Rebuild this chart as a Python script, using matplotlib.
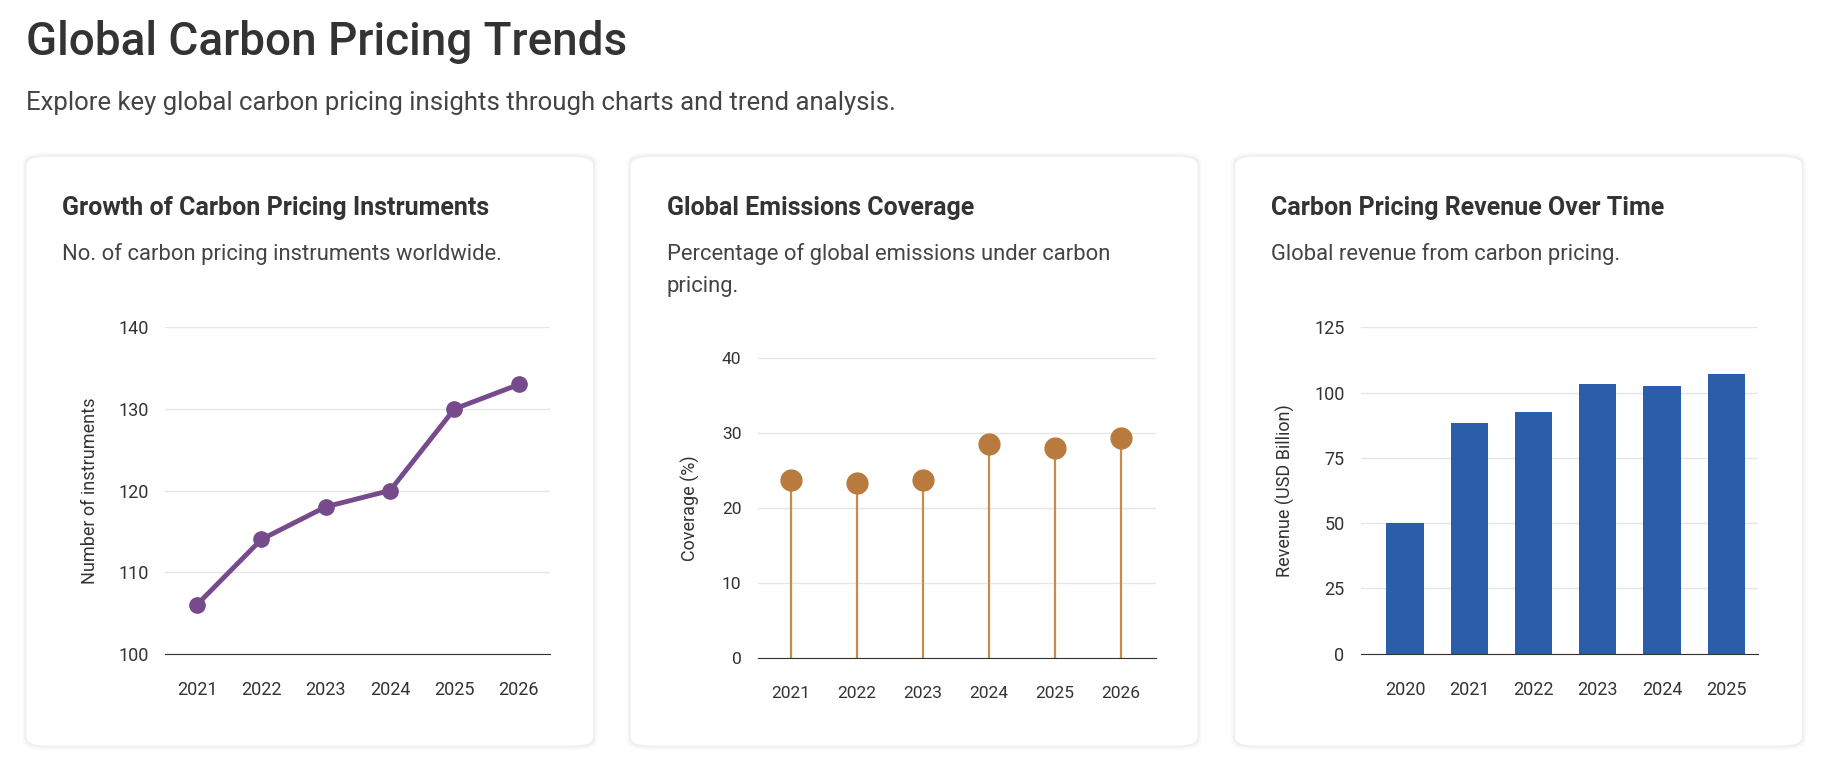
import numpy as np
import matplotlib.pyplot as plt
from matplotlib.patches import FancyBboxPatch

#tre grafici affiancati sul prezzo del carbonio

anni1=['2021','2022','2023','2024','2025','2026'] #anni strumenti
strumenti=[106,114,118,120,130,133] #numero di strumenti
anni2=['2021','2022','2023','2024','2025','2026'] #anni copertura
copertura=[23.8,23.4,23.8,28.5,28.0,29.4] #percentuale emissioni coperte
anni3=['2020','2021','2022','2023','2024','2025'] #anni ricavi
ricavi=[50,88.5,92.5,103.5,102.5,107] #miliardi di dollari

W,H=1568,663 #dimensioni di riferimento in pixel
def fx(p): return p/W #pixel -> frazione x
def fy(p): return 1-p/H #pixel -> frazione y

plt.rcParams['font.family']=['Roboto','DejaVu Sans']
fig=plt.figure(figsize=(18.4,7.78),dpi=100)
fig.patch.set_facecolor('white')

fig.text(fx(22),fy(36),'Global Carbon Pricing Trends',fontsize=33,color='#333333',fontweight='medium',va='center')
fig.text(fx(22),fy(88),'Explore key global carbon pricing insights through charts and trend analysis.',fontsize=18.5,color='#444444',va='center')

titoli=['Growth of Carbon Pricing Instruments','Global Emissions Coverage','Carbon Pricing Revenue Over Time']
sottotitoli=['No. of carbon pricing instruments worldwide.','Percentage of global emissions under carbon\npricing.','Global revenue from carbon pricing.']
for i,x0 in enumerate([22,537,1052]):
    # schede con bordi arrotondati
    for k,a in [(6,0.02),(3,0.03)]: #ombra leggera
        fig.patches.append(FancyBboxPatch((fx(x0-k/2),fy(636+k/2)),fx(484+k),(503+k)/H,boxstyle='round,pad=0,rounding_size=0.012',transform=fig.transFigure,fc=(0,0,0,a),ec='none',zorder=0))
    fig.patches.append(FancyBboxPatch((fx(x0),fy(636)),fx(484),503/H,boxstyle='round,pad=0,rounding_size=0.012',transform=fig.transFigure,fc='white',ec='#eeeeee',lw=0.8,zorder=1))
    fig.text(fx(x0+31),fy(177),titoli[i],fontsize=18,fontweight='bold',color='#333333',va='center',zorder=2)
    fig.text(fx(x0+31),fy(207),sottotitoli[i],fontsize=15.8,color='#444444',va='top',linespacing=1.7,zorder=2)

def stile(ax): #griglia e assi comuni
    ax.set_zorder(3)
    ax.set_facecolor('none')
    for s in ['top','right','left']:
        ax.spines[s].set_visible(False)
    ax.spines['bottom'].set_color('#333333')
    ax.grid(axis='y',color='#e6e6e6',lw=1)
    ax.set_axisbelow(True)
    ax.tick_params(length=0,labelsize=13,labelcolor='#333333',pad=12)
    ax.tick_params(axis='x',pad=20)

#grafico a linea
ax1=fig.add_axes([fx(141),fy(557),fx(328),(557-279)/H])
ax1.plot(range(len(anni1)),strumenti,color='#774a8c',lw=3.5,marker='o',ms=11)
ax1.set_ylim(100,140)
ax1.set_yticks([100,110,120,130,140])
ax1.set_xlim(-0.49,5.49)
ax1.set_xticks(range(len(anni1)),anni1)
ax1.set_ylabel('Number of instruments',fontsize=13,color='#333333',labelpad=14)
stile(ax1)

#grafico lollipop
ax2=fig.add_axes([fx(646),fy(561),fx(339),(561-305)/H])
ax2.vlines(range(len(anni2)),0,copertura,color='#c98a4a',lw=1.6)
ax2.plot(range(len(anni2)),copertura,'o',color='#b87a3d',ms=15)
ax2.set_ylim(0,40)
ax2.set_yticks([0,10,20,30,40])
ax2.set_xlim(-0.5,5.53)
ax2.set_xticks(range(len(anni2)),anni2)
ax2.set_ylabel('Coverage (%)',fontsize=13,color='#333333',labelpad=16)
stile(ax2)
ax2.tick_params(labelsize=12.5)

#grafico a barre
ax3=fig.add_axes([fx(1160),fy(557),fx(338),(557-279)/H])
ax3.bar(range(len(anni3)),ricavi,width=0.58,color='#2a5ea8')
ax3.set_ylim(0,125)
ax3.set_yticks([0,25,50,75,100,125])
ax3.set_xlim(-0.68,5.49)
ax3.set_xticks(range(len(anni3)),anni3)
ax3.set_ylabel('Revenue (USD Billion)',fontsize=13,color='#333333',labelpad=14)
stile(ax3)

plt.savefig('out.png',dpi=100)
